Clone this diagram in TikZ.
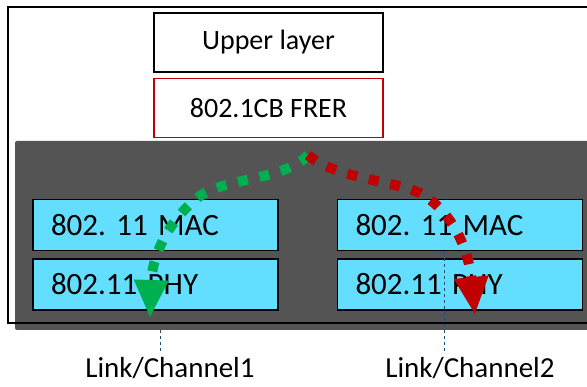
\documentclass[tikz,border=0pt]{standalone}
\usepackage{fontspec}
\setmainfont{Carlito}
\usetikzlibrary{positioning,arrows.meta}

\definecolor{frerred}{RGB}{192,0,0}
\definecolor{flowgreen}{RGB}{0,176,80}
\definecolor{wifiblue}{RGB}{99,222,255}
\definecolor{stackgray}{RGB}{84,84,84}
\definecolor{chanblue}{RGB}{31,78,121}

\begin{document}
\begin{tikzpicture}[
		x=1pt, y=-1pt,
		node distance=5pt,
		layerbox/.style={draw, line width=1.5pt, minimum width=229pt, minimum height=59pt, font=\fontsize{28}{33}\selectfont},
		wifibox/.style={draw, line width=1.5pt, fill=wifiblue, text width=209pt, inner xsep=18pt, minimum height=51pt, align=left, font=\fontsize{31}{36}\selectfont},
		chanlabel/.style={anchor=base, inner sep=4pt, font=\fontsize{29}{34}\selectfont},
		flow/.style={line width=10pt, dash pattern=on 10pt off 12pt},
	]
		\useasboundingbox (0,0) rectangle (587,387);
		
		% station frame and wireless stack
		\fill[stackgray, rounded corners=2pt] (15,141) rectangle (600,330);
		\draw[line width=2pt] (8,7) rectangle (600,323);
		
		\node (upper) [layerbox] at (268.5,42.5) {Upper layer};
		\node (frer) [layerbox, draw=frerred, below=of upper] {802.1CB FRER};
		
		\node (mac1) [wifibox] at (155.5,225) {802.\ 11 MAC};
		\node (phy1) [wifibox, below=7pt of mac1] {802.11 PHY};
		\node (mac2) [wifibox] at (460,225) {802.\ 11 MAC};
		\node (phy2) [wifibox, below=7pt of mac2] {802.11 PHY};
		
		\node (lab1) [chanlabel] at (170,378) {Link/Channel1};
		\node (lab2) [chanlabel] at (470,378) {Link/Channel2};
		
		\coordinate (tap1) at (160,330);
		\coordinate (tap2) at (444,252);
		\draw[chanblue, line width=1pt, dashed] (tap1) -- (tap1 |- lab1.north);
		\draw[chanblue, line width=1pt, dashed] (tap2) -- (tap2 |- lab2.north);
		
		% replicated streams
		\coordinate (split) at (308,155);
		\draw[flow, flowgreen, -{Triangle[width=32pt,length=38pt]}] (split) .. controls (285,180) and (225,178) .. (200,196) .. controls (170,218) and (152,255) .. (150,318);
		\draw[flow, frerred, -{Triangle[width=32pt,length=38pt]}] (split) .. controls (335,178) and (390,180) .. (420,193) .. controls (450,210) and (468,245) .. (475,315);
	\end{tikzpicture}
\end{document}
